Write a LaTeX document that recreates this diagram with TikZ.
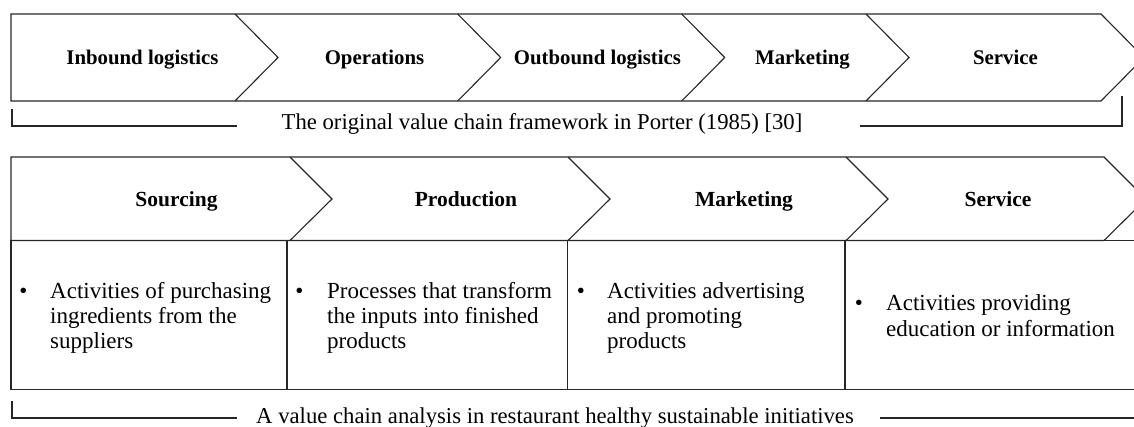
\documentclass[tikz,border=0pt]{standalone}
\usepackage{fontspec}
\setmainfont{Liberation Serif}
\begin{document}
\begin{tikzpicture}[x=1pt,y=-1pt,
  chainline/.style={draw=black!85, line width=1.1pt, line join=miter},
  brk/.style={draw=black!85, line width=1.1pt},
  hdA/.style={font=\fontsize{20.8}{24}\selectfont\bfseries, anchor=base, inner sep=0pt},
  hdB/.style={font=\fontsize{21.5}{25}\selectfont\bfseries, anchor=base, inner sep=0pt},
  bodytext/.style={font=\fontsize{23}{24}\selectfont, anchor=base west, inner sep=0pt},
  bul/.style={font=\fontsize{23}{24}\selectfont, anchor=base, inner sep=0pt},
  captext/.style={font=\fontsize{22.7}{24}\selectfont, anchor=base, inner sep=0pt}]
\useasboundingbox (0,0) rectangle (1134,427);
\clip (0,0) rectangle (1134,427);

% ---- top row: Porter's value chain ----
\draw[chainline] (11,14) -- (1101,14) -- (1144,57.5) -- (1101,101) -- (11,101) -- cycle;
\foreach \x in {235,457.7,681.7,866}
  \draw[chainline] (\x,14) -- ({\x+43},57.5) -- (\x,101);
\node[hdA] (t1) at (142.5,65) {Inbound logistics};
\node[hdA] (t2) at (374.5,65) {Operations};
\node[hdA] (t3) at (597.5,65) {Outbound logistics};
\node[hdA] (t4) at (802.5,65) {Marketing};
\node[hdA] (t5) at (1005.5,65) {Service};

% bracket 1
\coordinate (b1a) at (12,109);
\coordinate (b1b) at (12,126);
\coordinate (b1c) at (237,126);
\coordinate (b1d) at (860,126);
\coordinate (b1e) at (1122,126);
\coordinate (b1f) at (1122,96);
\draw[brk] (b1a) -- (b1b) -- (b1c);
\draw[brk] (b1d) -- (b1e) -- (b1f);
\node[captext] (c1) at (542,129.5) {The original value chain framework in Porter (1985) [30]};

% ---- second row ----
\draw[chainline] (11,157) -- (1104,157) -- (1146,199) -- (1104,240.5) -- (11,240.5) -- cycle;
\foreach \x in {290,568,846}
  \draw[chainline] (\x,157) -- ({\x+42},199) -- (\x,240.5);
\node[hdB] (s1) at (176.5,206.5) {Sourcing};
\node[hdB] (s2) at (466,206.5) {Production};
\node[hdB] (s3) at (744,206.5) {Marketing};
\node[hdB] (s4) at (998,206.5) {Service};

% table
\draw[chainline] (1104,240.5) -- (1140,240.5);
\draw[chainline] (11,240.5) -- (11,389.5) -- (1140,389.5);
\foreach \x in {287,567.5,845}
  \draw[chainline] (\x,240.5) -- (\x,389.5);

% cell 1
\node[bul] (p1) at (23.5,298.5) {•};
\node[bodytext] (p1a) at (50,298.5) {Activities of purchasing};
\node[bodytext] (p1b) at (50,323.5) {ingredients from the};
\node[bodytext] (p1c) at (50,348.5) {suppliers};
% cell 2
\node[bul] (p2) at (299.5,298.5) {•};
\node[bodytext] (p2a) at (327,298.5) {Processes that transform};
\node[bodytext] (p2b) at (327,323.5) {the inputs into finished};
\node[bodytext] (p2c) at (327,348.5) {products};
% cell 3
\node[bul] (p3) at (581,298.5) {•};
\node[bodytext] (p3a) at (607,298.5) {Activities advertising};
\node[bodytext] (p3b) at (607,323.5) {and promoting};
\node[bodytext] (p3c) at (607,348.5) {products};
% cell 4
\node[bul] (p4) at (859,311) {•};
\node[bodytext] (p4a) at (886,311) {Activities providing};
\node[bodytext] (p4b) at (886,336) {education or information};

% bracket 2
\coordinate (b2a) at (12,401);
\coordinate (b2b) at (12,418);
\coordinate (b2c) at (237,418);
\coordinate (b2d) at (880,418);
\coordinate (b2e) at (1140,418);
\draw[brk] (b2a) -- (b2b) -- (b2c);
\draw[brk] (b2d) -- (b2e);
\node[captext] (c2) at (555,423) {A value chain analysis in restaurant healthy sustainable initiatives};
\end{tikzpicture}
\end{document}
